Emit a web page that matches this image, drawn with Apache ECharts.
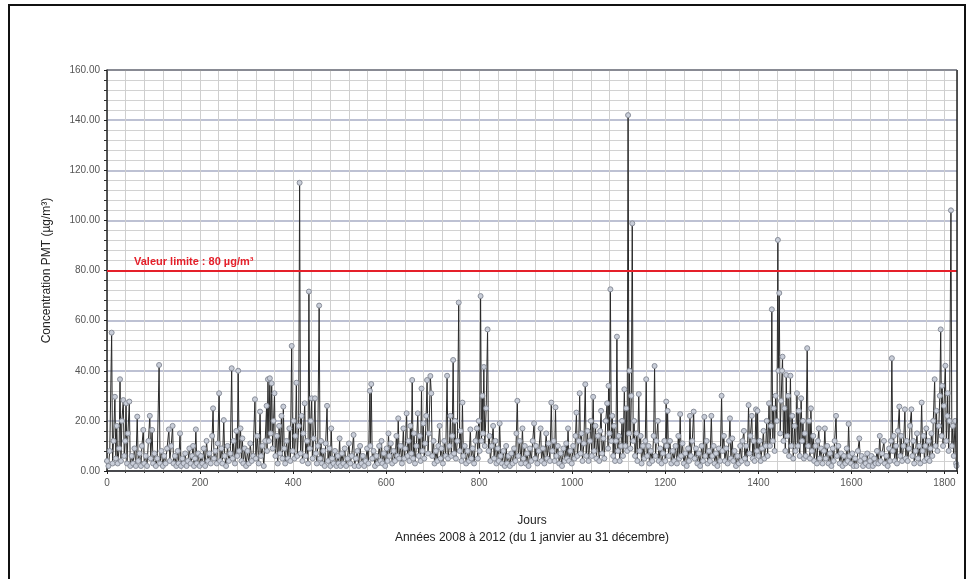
<!DOCTYPE html>
<html>
<head>
<meta charset="utf-8">
<script src="https://cdn.jsdelivr.net/npm/echarts@6/dist/echarts.min.js"></script>
<style>
html,body{margin:0;padding:0;background:#fff;}
#chart{width:976px;height:579px;}
</style>
</head>
<body>
<div id="chart"></div>
<script>
// Daily PM concentration (µg/m³), [day index, value]
const d2008 = [[0,4],[3,2],[6,8],[10,55.2],[12,3],[14,12],[17,29.6],[19,5],[21,18],[23,3],[26,9],[28,36.6],[30,4],[32,20],[35,28.3],[37,6],[39,12],[41,27],[43,3],[45,15],[48,27.7],[50,2],[53,6],[56,3],[59,9],[62,2],[65,21.7],[67,4],[70,7],[73,2],[75,10],[78,16.4],[80,3],[83,6],[86,2],[89,12],[92,22],[94,5],[97,16.4],[99,3],
[102,7],[105,2],[108,5],[112,42.3],[114,3],[117,8],[120,2],[123,6],[126,3],[129,9],[133,16.6],[135,4],[138,10],[141,18],[143,3],[146,6],[149,2],[152,8],[154,3],[157,15],[159,2],[162,5],[165,3],[168,7],[171,2],[174,4],[177,9],[180,3],[183,6],[185,10],[187,2],[189,5],[191,16.6],[193,3],[196,7],[199,2],
[202,6],[205,3],[208,9],[211,2],[214,12],[217,4],[220,7],[223,3],[226,14],[228,25],[230,5],[233,8],[236,3],[238,11],[241,31],[243,4],[246,9],[248,3],[251,20.3],[253,6],[256,2],[259,10],[262,4],[265,7],[268,41],[270,5],[272,12],[275,3],[278,16],[280,6],[282,40],[284,8],[287,17],[289,4],[291,13],[293,3],[296,9],[299,2],
[302,8],[305,3],[308,11],[311,4],[314,6],[318,28.6],[320,5],[323,14],[326,3],[329,23.7],[331,6],[334,10],[337,2],[340,12],[343,26],[344,8],[346,36.6],[348,12],[350,37],[352,15],[354,35],[356,9],[358,20],[360,31],[362,6],[365,14]];
const d2009 = [[367,3],[370,18],[372,7],[375,22],[377,5],[379,25.7],[381,9],[383,3],[386,12],[389,5],[392,17],[394,4],[397,49.9],[399,8],
[401,20],[403,5],[405,14],[407,35.2],[409,6],[412,18],[414,115],[416,7],[418,22],[420,4],[422,15],[425,27],[427,6],[430,12],[432,3],[434,71.6],[436,9],[438,20],[440,29],[442,5],[444,13],[447,29],[449,7],[451,3],[453,10],[456,66],[458,5],[460,12],[462,3],[465,8],[468,2],[470,11],[473,26],[475,4],[478,9],[480,2],[482,17],[484,5],[487,3],[490,8],[493,2],[496,6],[498,3],[500,13],
[502,2],[505,7],[508,3],[511,9],[514,2],[517,5],[520,11],[523,3],[526,6],[530,14.4],[532,2],[535,5],[538,8],[541,2],[544,10],[547,3],[550,6],[553,2],[556,4],[559,9],[562,3],[565,32],[566,10],[568,34.7],[570,5],[573,8],[576,2],[579,6],[582,3],[585,10],[588,4],[590,12],[592,3],[595,7],[598,2],
[601,9],[603,4],[605,15],[607,6],[610,11],[613,3],[616,8],[619,4],[622,14],[624,6],[626,21],[628,5],[631,10],[634,3],[637,17],[639,5],[641,9],[644,23],[646,6],[648,12],[650,4],[652,18],[654,7],[656,36.3],[658,5],[660,15],[662,3],[665,10],[668,23],[670,6],[672,14],[674,4],[676,32.9],[678,8],[680,19],[682,5],[684,11],[686,22],[688,36.3],[690,7],[692,15],[695,37.9],[697,31],[699,6],
[702,12],[704,3],[707,8],[710,4],[712,10],[715,18],[717,5],[719,9],[722,3],[725,12],[728,6]];
const d2010 = [[731,38],[733,5],[736,10],[738,22],[740,6],[742,14],[744,44.3],[746,7],[748,20],[750,5],[753,12],[756,67.2],[758,8],[760,16],[762,4],[764,27.3],[766,6],[769,10],[772,3],[775,8],[778,4],[781,16.6],[783,5],[786,9],[789,3],[792,12],[795,17],[797,5],[799,20],
[801,8],[803,69.8],[805,12],[807,30],[808,15],[810,41.5],[812,10],[815,25],[818,56.5],[820,8],[822,14],[824,4],[827,10],[830,18],[832,5],[835,12],[837,3],[840,9],[842,4],[844,19],[846,6],[849,3],[852,8],[855,2],[858,10],[860,3],[863,6],[866,2],[869,7],[872,3],[875,9],[878,4],[880,15],[882,28],[884,6],[887,12],[890,3],[893,17],[895,5],[898,10],
[900,3],[903,7],[906,2],[909,9],[912,4],[915,12],[918,19],[920,5],[922,10],[925,3],[928,8],[932,17],[934,4],[937,9],[940,3],[944,15],[946,5],[949,11],[952,4],[955,27.3],[957,8],[960,12],[962,4],[964,25.4],[966,6],[969,10],[972,3],[975,7],[978,2],[981,9],[984,4],[987,11],[989,5],[991,17],[993,4],[996,8],[999,3],
[1002,10],[1005,5],[1007,14],[1009,23.3],[1011,6],[1014,12],[1016,31],[1018,7],[1020,15],[1022,4],[1025,11],[1028,34.6],[1030,6],[1033,16],[1035,4],[1038,12],[1040,20],[1042,6],[1045,29.6],[1047,8],[1050,18],[1052,5],[1055,14],[1058,4],[1060,16],[1062,24],[1064,7],[1067,13],[1069,5],[1072,20],[1075,27],[1077,9],[1078,34],[1080,15],[1082,72.5],[1084,12],[1086,22],[1088,6],[1090,18],[1092,4]];
const d2011 = [[1094,12],[1096,53.6],[1098,8],
[1100,14],[1102,4],[1105,10],[1107,20],[1109,6],[1112,32.6],[1114,10],[1116,25],[1118,8],[1120,142],[1122,15],[1123,40],[1125,9],[1127,30],[1129,98.8],[1131,12],[1133,20],[1135,6],[1138,15],[1140,4],[1143,30.7],[1145,8],[1147,14],[1149,3],[1152,10],[1155,5],[1157,12],[1159,36.6],[1161,6],[1164,10],[1166,3],[1169,8],[1172,4],[1175,14],[1177,41.9],[1179,6],[1181,12],[1184,20],[1186,4],[1189,9],[1192,3],[1195,7],[1198,12],
[1200,4],[1202,27.7],[1203,10],[1205,24],[1207,6],[1210,12],[1213,3],[1216,8],[1219,4],[1222,10],[1225,3],[1228,14],[1230,5],[1232,22.7],[1234,6],[1237,11],[1240,3],[1243,7],[1246,2],[1249,9],[1251,4],[1253,22],[1255,6],[1258,12],[1261,23.7],[1263,5],[1266,9],[1269,3],[1272,7],[1275,2],[1278,10],[1281,4],[1284,21.6],[1286,6],[1289,12],[1291,3],[1294,8],[1296,4],[1299,22],
[1301,6],[1304,10],[1306,3],[1309,7],[1312,2],[1315,9],[1318,4],[1321,30],[1323,8],[1326,14],[1328,4],[1331,9],[1334,3],[1337,12],[1339,21],[1341,5],[1344,13],[1346,4],[1349,8],[1352,2],[1355,6],[1358,3],[1361,10],[1364,4],[1366,12],[1369,16],[1371,5],[1374,10],[1376,3],[1379,26.3],[1381,7],[1383,14],[1386,22],[1388,5],[1390,12],[1392,4],[1395,24.6],[1397,8],[1398,24],
[1400,6],[1403,12],[1405,4],[1408,9],[1411,16],[1413,5],[1416,10],[1418,20],[1420,6],[1423,27],[1425,10],[1427,18],[1429,64.5],[1431,12],[1433,25],[1435,8],[1437,30],[1440,20],[1442,92.2],[1443,40],[1445,71],[1447,15],[1449,28],[1451,40],[1452,45.6],[1454,12],[1456,25],[1458,8]];
const d2012 = [[1460,38.3],[1462,14],[1464,30],[1466,6],[1469,38],[1471,10],[1473,22],[1475,5],[1478,18],[1480,8],[1483,31],[1485,10],[1487,24],[1489,6],[1492,29],[1494,12],[1496,20],[1498,5],
[1500,15],[1502,6],[1505,49],[1507,10],[1509,20],[1511,5],[1513,25],[1515,8],[1518,14],[1520,4],[1523,10],[1526,3],[1528,12],[1530,17],[1532,5],[1535,9],[1538,3],[1541,8],[1543,17],[1545,5],[1548,10],[1551,3],[1554,7],[1557,2],[1560,9],[1562,4],[1564,12],[1567,22],[1569,6],[1572,10],[1575,3],[1578,7],[1581,2],[1584,6],[1587,3],[1590,9],[1592,4],[1594,18.8],[1596,6],[1599,3],
[1602,7],[1605,2],[1608,5],[1611,2],[1614,8],[1617,13],[1619,4],[1622,6],[1625,2],[1628,5],[1631,3],[1634,7],[1637,2],[1640,4],[1643,6],[1646,2],[1649,5],[1652,3],[1655,8],[1658,3],[1661,14],[1663,4],[1666,7],[1670,12],[1672,3],[1675,6],[1678,2],[1681,9],[1683,4],[1685,12],[1687,45],[1689,8],[1691,14],[1693,4],[1696,10],[1698,3],[1700,16],
[1703,25.7],[1705,6],[1707,14],[1709,4],[1712,10],[1715,24.6],[1717,5],[1719,12],[1721,4],[1724,9],[1726,18],[1729,24.6],[1731,6],[1733,12],[1735,3],[1738,8],[1741,15],[1743,5],[1746,10],[1748,3],[1751,27.3],[1753,8],[1755,14],[1757,4],[1759,10],[1761,17],[1763,5],[1766,12],[1768,4],[1770,9],[1772,15],[1774,6],[1776,20],[1779,36.6],[1781,10],[1783,24],[1785,8],[1788,18],[1790,30],[1792,56.5],[1794,14],[1795,34],[1797,10],[1799,26],
[1802,42],[1804,12],[1806,22],[1807,31],[1809,8],[1811,20],[1814,104],[1816,10],[1818,18],[1820,6],[1823,20],[1825,3],[1826,2]];

const limitValue = 80;
const limitLabel = 'Valeur limite : 80 µg/m³';
const yAxisName = 'Concentration PMT (µg/m³)';
const xTitle1 = 'Jours';
const xTitle2 = 'Années 2008 à 2012 (du 1 janvier au 31 décembre)';
const dayMax = 1827;

const allData = [].concat(d2008, d2009, d2010, d2011, d2012);
const FONT = '"Liberation Sans", Arial, sans-serif';

const chart = echarts.init(document.getElementById('chart'), null, {renderer: 'canvas'});
chart.setOption({
  animation: false,
  backgroundColor: '#fff',
  grid: {left: 107, right: 19, top: 70, bottom: 108, containLabel: false},
  xAxis: {
    type: 'value', min: 0, max: dayMax, interval: 200,
    axisLine: {show: true, onZero: false, lineStyle: {color: '#222', width: 1.5}},
    axisTick: {show: true, length: 3, inside: false, lineStyle: {color: '#222'}},
    minorTick: {show: true, splitNumber: 5, length: 2, lineStyle: {color: '#444'}},
    axisLabel: {fontFamily: FONT, fontSize: 10, color: '#555', margin: 7, showMaxLabel: false,
      formatter: v => String(v)},
    splitLine: {show: true, lineStyle: {color: '#cfcfcf', width: 1}},
    minorSplitLine: {show: true, lineStyle: {color: '#cfcfcf', width: 1}}
  },
  yAxis: {
    type: 'value', min: 0, max: 160, interval: 20,
    name: yAxisName, nameLocation: 'middle', nameGap: 54,
    nameTextStyle: {fontFamily: FONT, fontSize: 12, color: '#222'},
    axisLine: {show: true, lineStyle: {color: '#222', width: 1.5}},
    axisTick: {show: true, length: 3, lineStyle: {color: '#222'}},
    minorTick: {show: true, splitNumber: 5, length: 3, lineStyle: {color: '#333'}},
    axisLabel: {fontFamily: FONT, fontSize: 10, color: '#555', margin: 7,
      formatter: v => v.toFixed(2)},
    splitLine: {show: true, lineStyle: {color: '#a7adc4', width: 1.5}},
    minorSplitLine: {show: true, lineStyle: {color: '#d2d2d2', width: 1}}
  },
  series: [{
    type: 'line',
    data: allData,
    showAllSymbol: true,
    symbol: 'circle',
    symbolSize: 5,
    lineStyle: {color: '#2a2a2a', width: 1},
    itemStyle: {color: '#c9ced9', borderColor: '#8a8f9a', borderWidth: 1},
    z: 3,
    markLine: {
      silent: true,
      symbol: ['none', 'none'],
      data: [{yAxis: limitValue}],
      lineStyle: {color: '#e5202a', width: 2, type: 'solid'},
      label: {show: true, position: 'insideStartTop', formatter: limitLabel,
        fontFamily: FONT, fontSize: 11, fontWeight: 'bold', color: '#e5202a',
        distance: [27, 3]}
    }
  }],
  graphic: [
    {type: 'rect', shape: {x: 9, y: 5, width: 956, height: 600},
     style: {fill: 'none', stroke: '#111', lineWidth: 2}, silent: true},
    {type: 'line', shape: {x1: 957, y1: 70, x2: 957, y2: 471}, style: {stroke: '#222', lineWidth: 1.5}, z: 10},
    {type: 'line', shape: {x1: 107, y1: 70, x2: 957, y2: 70}, style: {stroke: '#555', lineWidth: 1}, z: 10},
    {type: 'text', x: 532, y: 521, style: {text: xTitle1, font: '12px ' + FONT, fill: '#222', textAlign: 'center', textVerticalAlign: 'middle'}},
    {type: 'text', x: 532, y: 538, style: {text: xTitle2, font: '12px ' + FONT, fill: '#222', textAlign: 'center', textVerticalAlign: 'middle'}}
  ]
});
</script>
</body>
</html>
